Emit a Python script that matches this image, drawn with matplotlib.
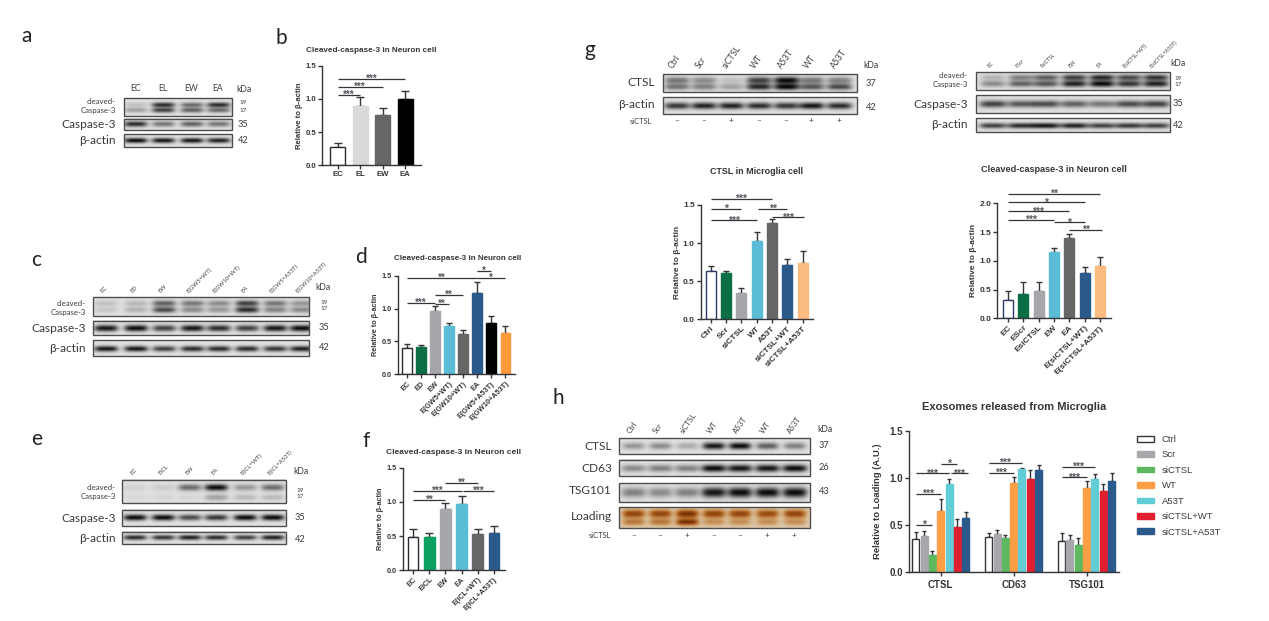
import numpy as np
import matplotlib
matplotlib.use("Agg")
import matplotlib.pyplot as plt
from matplotlib.patches import Rectangle, Patch
from matplotlib.colors import LinearSegmentedColormap

W, H = 1269, 621
ARIAL = "Liberation Sans"
BLOT = "Lato"
INK = "#33353a"

# ---------------- chart data ----------------
TITLE_N = "Cleaved-caspase-3 in Neuron cell"
b_cats = ["EC", "EL", "EW", "EA"]
b_vals = [0.27, 0.90, 0.75, 1.00]
b_errs = [0.07, 0.13, 0.12, 0.12]
b_cols = ["white", "#d9d9d9", "#666666", "#000000"]

d_cats = ["EC", "ED", "EW", "E(GW5+WT)", "E(GW10+WT)", "EA", "E(GW5+A53T)", "E(GW10+A53T)"]
d_vals = [0.40, 0.41, 0.97, 0.73, 0.61, 1.23, 0.78, 0.63]
d_errs = [0.06, 0.03, 0.07, 0.05, 0.06, 0.18, 0.10, 0.11]
d_cols = ["white", "#0b6e45", "#a6a6ab", "#5bbcd6", "#666666", "#2a5a8a", "#000000", "#ff9a3c"]

f_cats = ["EC", "EiCL", "EW", "EA", "E(iCL+WT)", "E(iCL+A53T)"]
f_vals = [0.49, 0.48, 0.89, 0.97, 0.53, 0.55]
f_errs = [0.11, 0.07, 0.10, 0.12, 0.07, 0.10]
f_cols = ["white", "#0aa060", "#a6a6ab", "#5bbcd6", "#666666", "#2a5a8a"]

g1_cats = ["Ctrl", "Scr", "siCTSL", "WT", "A53T", "siCTSL+WT", "siCTSL+A53T"]
g1_vals = [0.63, 0.61, 0.34, 1.03, 1.27, 0.71, 0.74]
g1_errs = [0.07, 0.03, 0.07, 0.11, 0.04, 0.08, 0.16]
g1_cols = ["white", "#0b6e45", "#a6a6ab", "#5bbcd6", "#666666", "#2a5a8a", "#fdbc7f"]

g2_cats = ["EC", "EScr", "EsiCTSL", "EW", "EA", "E(siCTSL+WT)", "E(siCTSL+A53T)"]
g2_vals = [0.32, 0.42, 0.47, 1.15, 1.40, 0.78, 0.91]
g2_errs = [0.15, 0.22, 0.16, 0.07, 0.06, 0.11, 0.15]

h_groups = ["CTSL", "CD63", "TSG101"]
h_series = ["Ctrl", "Scr", "siCTSL", "WT", "A53T", "siCTSL+WT", "siCTSL+A53T"]
h_cols = ["white", "#a6a6ab", "#5fb85f", "#ff9e45", "#63cdd6", "#e02030", "#2a5a8c"]
h_ctsl = [0.35, 0.38, 0.18, 0.65, 0.93, 0.48, 0.57]
h_ctsl_err = [0.07, 0.05, 0.04, 0.12, 0.06, 0.08, 0.07]
h_cd63 = [0.37, 0.40, 0.36, 0.95, 1.09, 0.99, 1.08]
h_cd63_err = [0.04, 0.04, 0.03, 0.06, 0.02, 0.09, 0.06]
h_tsg = [0.33, 0.34, 0.28, 0.89, 0.99, 0.86, 0.97]
h_tsg_err = [0.08, 0.05, 0.08, 0.08, 0.05, 0.07, 0.08]

# significance: first bar, last bar, height, label
b_sig = [(0, 1, 1.06, "***"), (0, 2, 1.175, "***"), (0, 3, 1.295, "***")]
d_sig = [(0, 2, 1.084, "***"), (2, 3, 1.07, "**"), (2, 4, 1.206, "**"),
         (0, 5, 1.46, "**"), (5, 6, 1.576, "*"), (5, 7, 1.46, "*")]
f_sig = [(0, 2, 1.023, "**"), (0, 3, 1.16, "***"), (2, 4, 1.28, "**"), (3.1, 5, 1.16, "***")]
g1_sig = [(0, 4, 1.58, "***"), (0, 2, 1.447, "*"), (0, 3, 1.30, "***"),
          (3.1, 5, 1.447, "**"), (4, 6.1, 1.337, "***")]
g2_sig = [(0, 6, 2.17, "**"), (0, 5, 2.017, "*"), (0, 4, 1.86, "***"), (0, 3, 1.716, "***"),
          (3, 5, 1.67, "*"), (4, 6.15, 1.536, "**")]
h_sig = [(-3, -1, 0.498, "*"), (-3, 0, 0.828, "***"), (-3, 1, 1.049, "***"),
         (0, 2, 1.148, "*"), (1.2, 3.3, 1.049, "***"),
         (5.76, 8.76, 1.056, "***"), (5.76, 9.76, 1.162, "***"),
         (14.52, 17.52, 1.006, "***"), (14.52, 18.52, 1.12, "***")]

# ---------------- blot data: band strength per lane ----------------
a_lanes = ["EC", "EL", "EW", "EA"]
a_cl19 = [0.15, 0.85, 0.55, 0.85]
a_cl17 = [0.30, 0.75, 0.60, 0.55]
a_casp = [0.85, 0.50, 0.60, 0.50]
a_act = [1.0, 0.95, 0.95, 0.90]

c_lanes = ["EC", "ED", "EW", "E(GW5+WT)", "E(GW10+WT)", "EA", "E(GW5+A53T)", "E(GW10+A53T)"]
c_cl19 = [0.15, 0.20, 0.60, 0.50, 0.40, 0.75, 0.50, 0.35]
c_cl17 = [0.12, 0.22, 0.70, 0.40, 0.35, 0.85, 0.45, 0.40]
c_casp = [0.95, 1.00, 0.75, 0.95, 0.85, 0.75, 0.95, 1.00]
c_act = [0.95, 0.95, 0.75, 0.85, 0.85, 0.85, 0.80, 0.90]

e_lanes = ["EC", "EiCL", "EW", "EA", "E(iCL+WT)", "E(iCL+A53T)"]
e_cl19 = [0.08, 0.10, 0.55, 1.00, 0.35, 0.55]
e_cl17 = [0.04, 0.05, 0.05, 0.30, 0.18, 0.18]
e_casp = [1.00, 1.00, 0.70, 0.80, 1.00, 1.00]
e_act = [0.85, 0.80, 0.90, 0.85, 0.75, 0.90]

g1_lanes = ["Ctrl", "Scr", "siCTSL", "WT", "A53T", "WT", "A53T"]
g1_sign = ["–", "–", "+", "–", "–", "+", "+"]
g1_ctsl_up = [0.50, 0.40, 0.15, 0.75, 1.00, 0.50, 0.45]
g1_ctsl_lo = [0.50, 0.45, 0.30, 0.85, 1.00, 0.65, 0.70]
g1_act = [0.80, 0.90, 0.90, 0.85, 0.80, 0.95, 0.85]

g2_lanes = ["EC", "EScr", "EsiCTSL", "EW", "EA", "E(siCTSL+WT)", "E(siCTSL+A53T)"]
g2_cl19 = [0.20, 0.45, 0.60, 0.75, 0.85, 0.70, 0.80]
g2_cl17 = [0.40, 0.60, 0.65, 0.90, 1.00, 0.80, 0.90]
g2_casp = [0.75, 0.65, 0.70, 0.60, 0.50, 0.70, 0.75]
g2_act = [0.75, 0.85, 0.95, 0.90, 0.75, 0.80, 0.75]

h_lanes = ["Ctrl", "Scr", "siCTSL", "WT", "A53T", "WT", "A53T"]
h_sign = ["–", "–", "+", "–", "–", "+", "+"]
h_b_ctsl = [0.35, 0.40, 0.25, 0.95, 1.00, 0.60, 0.45]
h_b_cd63 = [0.40, 0.45, 0.45, 1.00, 0.95, 0.95, 1.00]
h_b_tsg = [0.45, 0.40, 0.45, 0.95, 1.00, 1.00, 1.00]
h_load1 = [0.85, 0.85, 1.00, 0.85, 0.85, 0.80, 0.85]
h_load2 = [0.50, 0.50, 1.00, 0.35, 0.35, 0.35, 0.35]

fig = plt.figure(figsize=(W / 100, H / 100), dpi=100, facecolor="white")
ov = fig.add_axes([0, 0, 1, 1], zorder=0)
ov.set_xlim(0, W)
ov.set_ylim(H, 0)
ov.axis("off")


def otext(x, y, s, size, ha="center", va="center", rot=0, col="#3a3a3a", fam=BLOT, **kw):
    ov.text(x, y, s, fontsize=size, ha=ha, va=va, rotation=rot, color=col, family=fam,
            rotation_mode="anchor", **kw)


def blot(box, lanes, bands, bg=0.88, lane_w=0.42, cmap="gray"):
    x0, y0, x1, y1 = box
    nx, ny = int((x1 - x0) * 3), int((y1 - y0) * 3)
    xs = np.linspace(x0, x1, nx)[None, :]
    ys = np.linspace(0, 1, ny)[:, None]
    sp = np.median(np.diff(lanes))
    d = np.zeros((ny, nx))
    for yf, sy, vals in bands:
        for cx, v in zip(lanes, vals):
            d += v * np.exp(-((ys - yf) / sy) ** 2) * np.exp(-(np.abs(xs - cx) / (lane_w * sp)) ** 4)
    img = np.clip(bg - (bg - 0.04) * d, 0, 1)
    ov.imshow(img, extent=(x0, x1, y1, y0), cmap=cmap, vmin=0, vmax=1, aspect="auto",
              interpolation="bilinear", zorder=1)
    ov.add_patch(Rectangle((x0, y0), x1 - x0, y1 - y0, fill=False, ec="#4d4d4d", lw=1.0, zorder=2))


def lane_labels(lanes, names, y, size, rot=45):
    for x, n in zip(lanes, names):
        ov.text(x - 2, y, n, fontsize=size, ha="left" if rot else "center", va="bottom", rotation=rot,
                color="#404040", family=BLOT, rotation_mode="anchor")


def chart(pos, first, step, vals, errs, cols, cats, ymax, ticks, width, title, tpos, tsize,
          fs, ylab, sig, star, rot=45, edge="#2b2b33"):
    l, t, r, b = pos
    ax = fig.add_axes([l / W, 1 - b / H, (r - l) / W, (b - t) / H], zorder=3)
    ax.patch.set_alpha(0)
    ax.set_xlim(-(first - l) / step, (r - first) / step)
    ax.set_ylim(0, ymax)
    x = np.arange(len(vals))
    for xi, v, e, c in zip(x, vals, errs, cols):
        ec = edge if c == "white" else c
        ax.bar(xi, v, width / step, color=c, edgecolor=ec, linewidth=1.0, zorder=2)
        ax.errorbar(xi, v, yerr=[[0], [e]], color=INK, lw=1.0, capsize=min(width * 0.25, 2.6), capthick=1.0, zorder=1)
    ax.set_yticks(ticks)
    ax.set_yticklabels([f"{v:.1f}" for v in ticks])
    ax.set_xticks(x)
    if rot:
        ax.set_xticklabels(cats, rotation=rot, ha="right", rotation_mode="anchor")
    else:
        ax.set_xticklabels(cats)
    style(ax, fs)
    ax.set_ylabel(ylab, fontsize=fs, family=ARIAL, fontweight="bold", color=INK, labelpad=1.5)
    otext(tpos[0], tpos[1], title, tsize, col=INK, fam=ARIAL, fontweight="bold")
    brackets(ax, sig, star)
    return ax


def style(ax, fs):
    for s in ("top", "right"):
        ax.spines[s].set_visible(False)
    for s in ("left", "bottom"):
        ax.spines[s].set_linewidth(1.0)
        ax.spines[s].set_color(INK)
    ax.tick_params(length=2.8, width=1.0, color=INK, pad=1.5, labelsize=fs, labelcolor=INK)
    for lab in ax.get_xticklabels() + ax.get_yticklabels():
        lab.set_family(ARIAL)
        lab.set_fontweight("bold")


def brackets(ax, sig, size):
    for a, b, y, s in sig:
        ax.plot([a, b], [y, y], color=INK, lw=0.9, clip_on=False, zorder=5, solid_capstyle="butt")
        ax.annotate(s, ((a + b) / 2, y), xytext=(0, -0.5 * size), textcoords="offset points", ha="center",
                    va="bottom", fontsize=size, color="#55575c", family=ARIAL, fontweight="bold",
                    annotation_clip=False)


# ---------------- panel letters ----------------
for s, x, y in [("a", 27, 36), ("b", 281, 38), ("c", 36, 260), ("d", 361, 257), ("e", 37, 439),
                ("f", 366, 441), ("g", 590, 50), ("h", 558, 398)]:
    otext(x, y, s, 15, col="#222222")

# ---------------- blots ----------------
BIG = 8.6
# panel a
la = [135.4, 162.8, 191.3, 217.7]
blot((123.8, 98.3, 231.8, 115.7), la, [(0.38, 0.14, a_cl19), (0.68, 0.14, a_cl17)])
blot((123.8, 118.7, 231.8, 130), la, [(0.5, 0.24, a_casp)])
blot((123.8, 134, 231.8, 146.7), la, [(0.5, 0.2, a_act)])
lane_labels([x + 2 for x in la], a_lanes, 93, 6.2, rot=0)
otext(244, 89, "kDa", 6.2)
otext(243, 103, "19", 4.6)
otext(243, 110, "17", 4.6)
otext(243, 124.5, "35", 6.6)
otext(243, 140.5, "42", 6.6)
otext(115.5, 102, "cleaved-", 5.6, ha="right")
otext(115.5, 111, "Caspase-3", 5.6, ha="right")
otext(115.5, 124.5, "Caspase-3", BIG, ha="right")
otext(115.5, 140.5, "β-actin", BIG, ha="right")

# panel c
lc = [105.5, 135.4, 163.5, 191.7, 218, 246.2, 274.3, 300.7]
blot((92.5, 297.3, 308.8, 316), lc, [(0.33, 0.16, c_cl19), (0.68, 0.16, c_cl17)])
blot((92.5, 320.7, 308.8, 335.3), lc, [(0.55, 0.22, c_casp)])
blot((92.5, 340.3, 308.8, 356), lc, [(0.55, 0.18, c_act)])
lane_labels(lc, c_lanes, 294, 4.2)
otext(323, 287, "kDa", 6.2)
otext(324, 302, "19", 4.6)
otext(324, 309, "17", 4.6)
otext(324, 327, "35", 6.6)
otext(324, 348, "42", 6.6)
otext(86, 303, "cleaved-", 5.6, ha="right")
otext(86, 312, "Caspase-3", 5.6, ha="right")
otext(86, 328, "Caspase-3", BIG, ha="right")
otext(86, 348, "β-actin", BIG, ha="right")

# panel e
le = [135.4, 163.5, 189.9, 216.3, 245.1, 272.6]
blot((122.4, 480, 285.6, 503.3), le, [(0.35, 0.14, e_cl19), (0.77, 0.13, e_cl17)])
blot((122.4, 509.7, 285.6, 526), le, [(0.5, 0.18, e_casp)])
blot((122.4, 531.7, 285.6, 544), le, [(0.5, 0.2, e_act)])
lane_labels(le, e_lanes, 476, 4.2)
otext(301, 472, "kDa", 6.2)
otext(300, 490, "19", 4.6)
otext(300, 497, "17", 4.6)
otext(300, 518, "35", 6.6)
otext(300, 539, "42", 6.6)
otext(116, 487, "cleaved-", 5.6, ha="right")
otext(116, 496, "Caspase-3", 5.6, ha="right")
otext(116, 518, "Caspase-3", BIG, ha="right")
otext(116, 539, "β-actin", BIG, ha="right")

# panel g left
lg = [676.6, 703.5, 730.8, 758.5, 785.8, 811, 838.6]
blot((662.6, 74.3, 857, 92.3), lg, [(0.35, 0.2, g1_ctsl_up), (0.72, 0.18, g1_ctsl_lo)], lane_w=0.46)
blot((662.6, 97.3, 857, 114), lg, [(0.52, 0.2, g1_act)], lane_w=0.46)
lane_labels(lg, g1_lanes, 70, 6.2, rot=55)
otext(871, 66, "kDa", 6.2)
otext(871, 83, "37", 6.6)
otext(871, 107, "42", 6.6)
otext(655, 83, "CTSL", BIG, ha="right")
otext(655, 105, "β-actin", BIG, ha="right")
otext(652, 121, "siCTSL", 5.4, ha="right")
for x, s in zip(lg, g1_sign):
    otext(x, 120.5, s, 6)

# panel g right
lr = [992.4, 1020.5, 1045.3, 1073.4, 1101, 1128, 1154.8]
blot((975.5, 72, 1169.7, 90), lr, [(0.3, 0.17, g2_cl19), (0.66, 0.18, g2_cl17)], lane_w=0.46)
blot((975.5, 95, 1169.7, 112.7), lr, [(0.5, 0.2, g2_casp)], lane_w=0.5)
blot((975.5, 118, 1169.7, 132), lr, [(0.55, 0.2, g2_act)], lane_w=0.5)
lane_labels(lr, g2_lanes, 69, 3.7)
otext(1178, 63, "kDa", 6.2)
otext(1178, 78, "19", 4.6)
otext(1178, 85, "17", 4.6)
otext(1178, 104, "35", 6.6)
otext(1178, 125, "42", 6.6)
otext(968, 75, "cleaved-", 5.6, ha="right")
otext(968, 85, "Caspase-3", 5.6, ha="right")
otext(968, 104, "Caspase-3", BIG, ha="right")
otext(968, 125, "β-actin", BIG, ha="right")

# panel h
lh = [633.3, 660, 686.7, 713.3, 739.3, 766.7, 794]
blot((618.7, 438.3, 810, 454), lh, [(0.5, 0.22, h_b_ctsl)])
blot((618.7, 459.7, 810, 476), lh, [(0.55, 0.22, h_b_cd63)], lane_w=0.46)
blot((618.7, 483, 810, 501.7), lh, [(0.5, 0.27, h_b_tsg)], lane_w=0.46)
brown = LinearSegmentedColormap.from_list("gel", ["#6e2c05", "#a85a1a", "#c9965e", "#e2d3ba"])
blot((618.7, 507, 810, 527.7), lh, [(0.32, 0.2, h_load1), (0.72, 0.16, h_load2)], bg=0.95, cmap=brown)
lane_labels(lh, h_lanes, 435, 5.6, rot=55)
otext(825, 429, "kDa", 6.2)
otext(824, 446, "37", 6.6)
otext(824, 468, "26", 6.6)
otext(824, 491, "43", 6.6)
otext(612, 447, "CTSL", BIG, ha="right")
otext(612, 468, "CD63", BIG, ha="right")
otext(612, 491, "TSG101", BIG, ha="right")
otext(612, 516, "Loading", BIG, ha="right")
otext(611, 536, "siCTSL", 5.4, ha="right")
for x, s in zip(lh, h_sign):
    otext(x, 535.5, s, 6)

# ---------------- bar charts ----------------
ytxt = "Relative to β-actin"
NAVY = "#2b3a66"
chart((322.3, 65.7, 420.7, 165.3), 337.7, 22.53, b_vals, b_errs, b_cols, b_cats, 1.5, [0, .5, 1, 1.5], 14.8,
      TITLE_N, (371.5, 51), 5.85, 5.6, ytxt, b_sig, 7, rot=0)
chart((397.7, 275.7, 515, 374.3), 407, 14.04, d_vals, d_errs, d_cols, d_cats, 1.5, [0, .5, 1, 1.5], 9.5,
      TITLE_N, (457.5, 258.5), 5.8, 5.2, ytxt, d_sig, 7)
chart((402.7, 467.7, 505, 570.3), 413.2, 16.12, f_vals, f_errs, f_cols, f_cats, 1.5, [0, .5, 1, 1.5], 10.5,
      TITLE_N, (454, 452), 6.0, 5.2, ytxt, f_sig, 7)
chart((700.7, 205, 813.3, 319.3), 710.7, 15.33, g1_vals, g1_errs, g1_cols, g1_cats, 1.5, [0, .5, 1, 1.5], 10,
      "CTSL in Microglia cell", (757, 172), 6.4, 6.0, ytxt, g1_sig, 7.5, edge=NAVY)
chart((997.3, 203.3, 1110.7, 318.3), 1007.7, 15.4, g2_vals, g2_errs, g1_cols, g2_cats, 2.0, [0, .5, 1, 1.5, 2], 10,
      TITLE_N, (1054, 170), 6.6, 6.0, ytxt, g2_sig, 7.5, edge=NAVY)

# panel h grouped bars
l, t, r, b = 908.7, 431, 1119.3, 571.7
step = 8.33
ax = fig.add_axes([l / W, 1 - b / H, (r - l) / W, (b - t) / H], zorder=3)
ax.patch.set_alpha(0)
centres = np.array([0, 8.76, 17.52])
first = 915.7
ax.set_xlim(-3 - (first - l) / step, -3 + (r - first) / step)
ax.set_ylim(0, 1.5)
handles = []
for g, vals, errs in zip(centres, [h_ctsl, h_cd63, h_tsg], [h_ctsl_err, h_cd63_err, h_tsg_err]):
    for i, (v, e, c) in enumerate(zip(vals, errs, h_cols)):
        xi = g + i - 3
        ec = INK if c == "white" else c
        ax.bar(xi, v, 7 / step, color=c, edgecolor=ec, linewidth=1.0, zorder=2)
        ax.errorbar(xi, v, yerr=[[0], [e]], color=INK, lw=1.0, capsize=1.7, capthick=1.0, zorder=1)
for s, c in zip(h_series, h_cols):
    handles.append(Patch(facecolor=c, edgecolor=INK if c == "white" else c, linewidth=1.0, label=s))
ax.set_xticks(centres)
ax.set_xticklabels(h_groups)
ax.set_yticks([0, .5, 1, 1.5])
ax.set_yticklabels(["0.0", "0.5", "1.0", "1.5"])
style(ax, 7)
ax.tick_params(axis="x", pad=3)
ax.set_ylabel("Relative to Loading (A.U.)", fontsize=6.8, family=ARIAL, fontweight="bold", color=INK, labelpad=5)
otext(1014, 407, "Exosomes released from Microglia", 8.0, col=INK, fam=ARIAL, fontweight="bold")
brackets(ax, h_sig, 7.6)
leg = fig.legend(handles=handles, loc="upper left", bbox_to_anchor=(1137 / W, 1 - 435 / H), frameon=False,
                 prop={"family": ARIAL, "size": 6.8}, handlelength=1.8, handleheight=0.55, handletextpad=0.8,
                 labelspacing=0.68, borderpad=0, borderaxespad=0, labelcolor="#3a3a3a")

fig.savefig("out.png", dpi=100, facecolor="white")
